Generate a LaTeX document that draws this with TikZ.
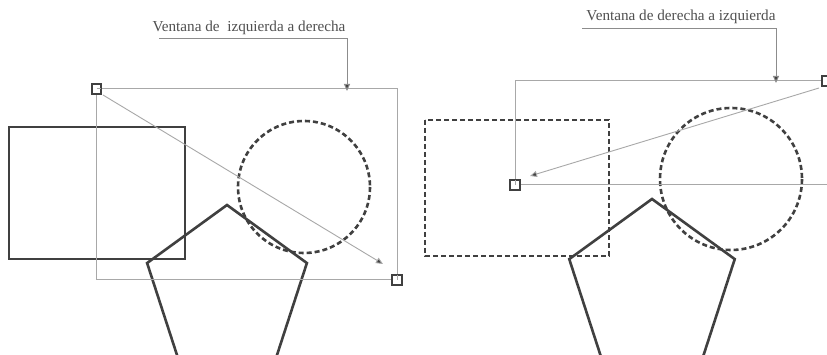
\documentclass[tikz,border=0pt]{standalone}
\usepackage{fontspec}
\setmainfont{Liberation Serif}
\usetikzlibrary{arrows.meta}
\definecolor{shape}{HTML}{404040}
\definecolor{thin}{HTML}{A8A8A8}
\definecolor{lead}{HTML}{8C8C8C}
\definecolor{txt}{HTML}{505050}
\tikzset{
  shapeline/.style={draw=shape, line width=2.6pt},
  dashline/.style={draw=shape, line width=2.6pt, dash pattern=on 5pt off 3pt},
  winline/.style={draw=thin, line width=1pt},
  leadline/.style={draw=lead, line width=1pt, -{Triangle[width=6pt,length=7pt,fill=shape]}},
  diagline/.style={draw=thin, line width=0.9pt, -{Triangle[width=6pt,length=7pt,fill=shape]}},
  handle/.style={draw=shape, line width=2.4pt, fill=white, minimum size=9.5pt, inner sep=0pt, outer sep=0pt},
  label/.style={text=txt, font=\fontsize{15.2}{17}\selectfont, inner sep=0pt, anchor=base}
}
\begin{document}
\begin{tikzpicture}[x=1pt,y=-1pt]
\useasboundingbox (0,0) rectangle (827,355);
\clip (0,0) rectangle (827,355);
\fill[white] (0,0) rectangle (827,355);

% ---------- left panel ----------
\draw[shapeline] (9,127) rectangle (185,259);
\draw[dashline] (304,187) circle (66);
\path (227,289) ++(-90:84) coordinate (p1)
  (227,289) ++(-18:84) coordinate (p2)
  (227,289) ++(54:84) coordinate (p3)
  (227,289) ++(126:84) coordinate (p4)
  (227,289) ++(198:84) coordinate (p5);
\draw[shapeline] (p1) -- (p2) -- (p3) -- (p4) -- (p5) -- cycle;

\coordinate (la) at (96.5,89);
\coordinate (lb) at (397,280);
\draw[winline] (la) rectangle (lb);
\node[handle] (ha) at (la) {};
\node[handle] (hb) at (lb) {};
\draw[winline] (ha.center) -- (ha.east);
\draw[winline] (hb.center) -- (hb.north);
\coordinate (ltip) at (383,264);
\draw[diagline] (103,95) -- (ltip);

\node[label] (lt) at (249,32) {Ventana de\ \ izquierda a derecha};
\coordinate (lstart) at (159,39);
\coordinate (larr) at (347,91);
\draw[leadline] (lstart) -| (larr);

% ---------- right panel ----------
\draw[dashline] (425,120) rectangle (609,256);
\draw[dashline] (731,179) circle (71);
\path (652,286) ++(-90:87) coordinate (q1)
  (652,286) ++(-18:87) coordinate (q2)
  (652,286) ++(54:87) coordinate (q3)
  (652,286) ++(126:87) coordinate (q4)
  (652,286) ++(198:87) coordinate (q5);
\draw[shapeline] (q1) -- (q2) -- (q3) -- (q4) -- (q5) -- cycle;

\coordinate (ra) at (827,81);
\coordinate (rb) at (515,185);
\draw[winline] (rb) rectangle (ra);
\node[handle] (hra) at (ra) {};
\node[handle] (hrb) at (rb) {};
\draw[winline] (hrb.center) -- (hrb.north);
\coordinate (rtip) at (530,176);
\draw[diagline] (819,88) -- (rtip);

\node[label] (rt) at (681,21) {Ventana de derecha a izquierda};
\coordinate (rstart) at (582,29);
\coordinate (rarr) at (776,83);
\draw[leadline] (rstart) -| (rarr);
\end{tikzpicture}
\end{document}
